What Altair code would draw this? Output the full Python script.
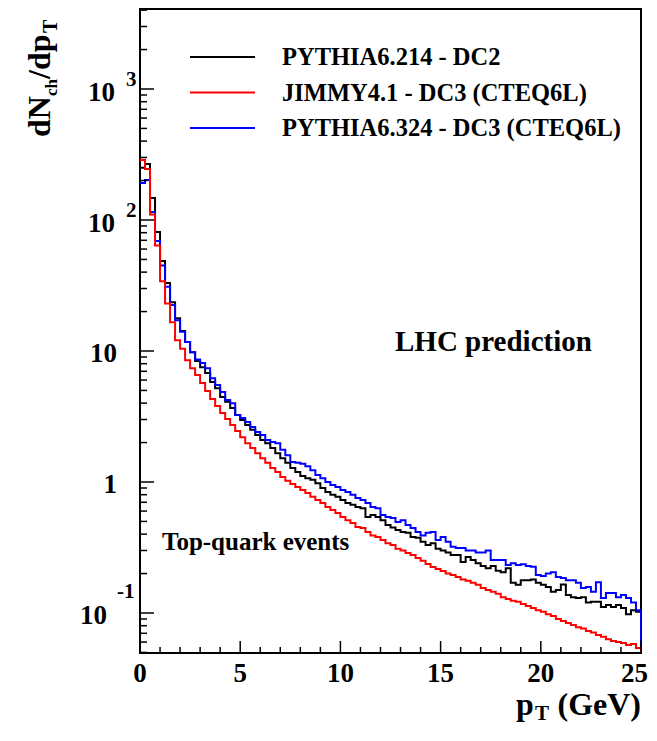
import altair as alt
import pandas as pd

# ---------------- data ----------------
bin_width = 0.25  # GeV, 100 bins from 0 to 25

pythia6214_dc2 = [
    250, 267, 147, 81, 48.6, 33, 23.6, 17.8, 14.2, 11.7,
    9.8, 8.4, 7.5, 6.8, 5.8, 5.2, 4.45, 4.1, 3.67, 3.25,
    2.97, 2.72, 2.5, 2.28, 2.09, 1.98, 1.82, 1.66, 1.52, 1.4,
    1.28, 1.19, 1.11, 1.07, 1.04, 0.98, 0.9, 0.84, 0.8, 0.77,
    0.73, 0.69, 0.67, 0.645, 0.63, 0.54, 0.56, 0.54, 0.51, 0.47,
    0.45, 0.43, 0.415, 0.41, 0.38, 0.375, 0.35, 0.33, 0.34, 0.31,
    0.30, 0.29, 0.277, 0.277, 0.245, 0.268, 0.254, 0.24, 0.228, 0.22,
    0.228, 0.21, 0.205, 0.22, 0.17, 0.164, 0.178, 0.178, 0.18, 0.17,
    0.164, 0.158, 0.145, 0.15, 0.165, 0.137, 0.132, 0.13, 0.132, 0.12,
    0.122, 0.122, 0.111, 0.115, 0.111, 0.115, 0.109, 0.098, 0.105, 0.102,
]

jimmy41_dc3 = [
    287, 245, 110, 64, 34, 23, 16.6, 12.1, 10.4, 8.5,
    7.4, 6.55, 5.7, 4.95, 4.3, 3.8, 3.36, 3.02, 2.72, 2.45,
    2.2, 1.98, 1.82, 1.66, 1.52, 1.4, 1.28, 1.19, 1.09, 1.02,
    0.965, 0.915, 0.87, 0.825, 0.77, 0.73, 0.69, 0.645, 0.61, 0.58,
    0.54, 0.51, 0.486, 0.453, 0.445, 0.415, 0.39, 0.38, 0.36, 0.34,
    0.33, 0.31, 0.30, 0.287, 0.277, 0.263, 0.25, 0.237, 0.224, 0.217,
    0.209, 0.2, 0.195, 0.188, 0.18, 0.176, 0.17, 0.164, 0.155, 0.15,
    0.145, 0.14, 0.132, 0.128, 0.124, 0.122, 0.117, 0.113, 0.109, 0.105,
    0.102, 0.098, 0.095, 0.09, 0.087, 0.084, 0.081, 0.078, 0.076, 0.073,
    0.071, 0.068, 0.066, 0.063, 0.061, 0.06, 0.059, 0.057, 0.058, 0.054,
]

pythia6324_dc3 = [
    192, 202, 115, 69, 45, 31, 22.4, 17.2, 14.0, 11.7,
    9.8, 8.6, 8.1, 7.4, 6.2, 5.5, 4.86, 4.22, 4.0, 3.25,
    3.08, 2.87, 2.63, 2.41, 2.28, 2.09, 2.02, 1.98, 1.76, 1.6,
    1.42, 1.4, 1.38, 1.32, 1.23, 1.13, 1.07, 1.0, 0.95, 0.915,
    0.87, 0.84, 0.8, 0.755, 0.73, 0.69, 0.645, 0.63, 0.56, 0.54,
    0.53, 0.495, 0.51, 0.47, 0.445, 0.415, 0.39, 0.41, 0.415, 0.36,
    0.38, 0.35, 0.32, 0.314, 0.314, 0.30, 0.30, 0.29, 0.29, 0.30,
    0.254, 0.254, 0.254, 0.232, 0.24, 0.232, 0.236, 0.228, 0.225, 0.195,
    0.192, 0.2, 0.205, 0.188, 0.185, 0.178, 0.178, 0.17, 0.155, 0.158,
    0.145, 0.172, 0.13, 0.142, 0.142, 0.132, 0.137, 0.13, 0.12, 0.105,
]

series_names = ["PYTHIA6.214 - DC2", "JIMMY4.1 - DC3 (CTEQ6L)", "PYTHIA6.324 - DC3 (CTEQ6L)"]
series_colors = ["#000000", "#ff0000", "#0000ff"]

x_major_ticks = [0, 5, 10, 15, 20, 25]
x_tick_labels = ["0", "5", "10", "15", "20", "25"]
x_minor_ticks = [1, 2, 3, 4, 6, 7, 8, 9, 11, 12, 13, 14, 16, 17, 18, 19, 21, 22, 23, 24]
y_major_ticks = [0.1, 1, 10, 100, 1000]
y_minor_ticks = ([m * 0.01 for m in range(5, 10)] + [m * 0.1 for m in range(2, 10)]
                 + [float(m) for m in range(2, 10)] + [m * 10.0 for m in range(2, 10)]
                 + [m * 100.0 for m in range(2, 10)] + [m * 1000.0 for m in range(2, 5)])

x_domain = [0, 25]
y_domain = [0.0495, 4080]
baseline_value = 0.01  # histogram drop-line at the right edge (clipped)

# ---------------- build tables ----------------
def hist_rows(name, values):
    rows = []
    for k, v in enumerate(values):
        rows.append({"series": name, "pt": k * bin_width, "val": v, "ord": k})
    rows.append({"series": name, "pt": len(values) * bin_width, "val": values[-1], "ord": len(values)})
    rows.append({"series": name, "pt": len(values) * bin_width, "val": baseline_value, "ord": len(values) + 1})
    return rows

hist = pd.DataFrame(
    hist_rows(series_names[0], pythia6214_dc2)
    + hist_rows(series_names[1], jimmy41_dc3)
    + hist_rows(series_names[2], pythia6324_dc3)
)

FONT = "Liberation Serif"

xs = alt.Scale(domain=x_domain, nice=False, zero=False)
ys = alt.Scale(type="log", domain=y_domain, nice=False)
cs = alt.Scale(domain=series_names, range=series_colors)

def series_line(name):
    return alt.Chart(hist[hist.series == name]).mark_line(
        interpolate="step-after", strokeWidth=2, clip=True
    ).encode(
        x=alt.X("pt:Q", scale=xs, axis=None),
        y=alt.Y("val:Q", scale=ys, axis=None),
        color=alt.Color("series:N", scale=cs, legend=None),
        order="ord:Q",
    )

lines = [series_line(series_names[0]), series_line(series_names[2]), series_line(series_names[1])]

# ticks drawn inside the frame
xmaj = alt.Chart(pd.DataFrame({"t": x_major_ticks})).mark_rule(color="black", strokeWidth=1.5).encode(
    x=alt.X("t:Q", scale=xs), y=alt.value(644), y2=alt.value(632))
xmin = alt.Chart(pd.DataFrame({"t": x_minor_ticks})).mark_rule(color="black", strokeWidth=1.5).encode(
    x=alt.X("t:Q", scale=xs), y=alt.value(644), y2=alt.value(638))
ymaj = alt.Chart(pd.DataFrame({"t": y_major_ticks})).mark_rule(color="black", strokeWidth=1.5).encode(
    y=alt.Y("t:Q", scale=ys), x=alt.value(0), x2=alt.value(14))
ymin = alt.Chart(pd.DataFrame({"t": y_minor_ticks})).mark_rule(color="black", strokeWidth=1.5).encode(
    y=alt.Y("t:Q", scale=ys), x=alt.value(0), x2=alt.value(7))

# x tick labels (the last one is kept inside the page)
xlab = pd.DataFrame({"t": x_major_ticks, "s": x_tick_labels})
xlabels_main = alt.Chart(xlab[xlab.t < 25]).mark_text(
    align="center", baseline="alphabetic", font=FONT, fontWeight="bold", fontSize=27, color="black"
).encode(x=alt.X("t:Q", scale=xs), y=alt.value(673), text="s:N")
xlabels_last = alt.Chart(xlab[xlab.t == 25]).mark_text(
    align="right", baseline="alphabetic", font=FONT, fontWeight="bold", fontSize=27, color="black", dx=7
).encode(x=alt.X("t:Q", scale=xs), y=alt.value(673), text="s:N")

# y tick labels in ROOT style (10 with superscript exponent)
lab_hi = pd.DataFrame({"v": [1000, 100], "m": ["10", "10"], "e": ["3", "2"]})
lab_mid = pd.DataFrame({"v": [10, 1], "m": ["10", "1"]})
lab_lo = pd.DataFrame({"v": [0.1], "m": ["10"], "e": ["-1"]})

def txt(df, field, align, xpx, dy, size):
    return alt.Chart(df).mark_text(
        align=align, baseline="middle", font=FONT, fontWeight="bold",
        fontSize=size, color="black", dy=dy
    ).encode(y=alt.Y("v:Q", scale=ys), x=alt.value(xpx), text=f"{field}:N")

ylabels = [
    txt(lab_hi, "m", "right", -25, 4, 27),
    txt(lab_hi, "e", "left", -14, -9, 21),
    txt(lab_mid, "m", "right", -23, 3, 27),
    txt(lab_lo, "m", "right", -33, 3, 27),
    txt(lab_lo, "e", "left", -23, -21, 21),
]

# free text helper (pixel positions relative to the plot area)
def free_text(s, xpx, ypx, size, align="left", angle=0, baseline="alphabetic"):
    return alt.Chart(pd.DataFrame({"s": [s]})).mark_text(
        align=align, baseline=baseline, font=FONT, fontWeight="bold", fontSize=size,
        color="black", angle=angle
    ).encode(x=alt.value(xpx), y=alt.value(ypx), text="s:N")

# legend
legend_layers = []
for i, (name, col) in enumerate(zip(series_names, series_colors)):
    ly = 48 + i * 35.5
    legend_layers.append(
        alt.Chart(pd.DataFrame({"s": [name]})).mark_rule(color=col, strokeWidth=2).encode(
            x=alt.value(50), x2=alt.value(115), y=alt.value(ly))
    )
    legend_layers.append(free_text(name, 142, ly + 8, 24.5))

annotations = [
    free_text("LHC prediction", 255, 342, 29),
    free_text("Top-quark events", 22, 541, 25),
    # x-axis title: p_T (GeV)
    free_text("(GeV)", 501, 706, 32, align="right"),
    free_text("p", 376, 706, 32),
    free_text("T", 395, 711, 21),
    # y-axis title: dN_ch/dp_T (rotated)
    free_text("dN", -90, 128, 32, angle=270),
    free_text("ch", -83, 87, 17, angle=270),
    free_text("/dp", -90, 70, 32, angle=270),
    free_text("T", -83, 24, 20, angle=270),
]

chart = alt.layer(
    *lines, xmaj, xmin, ymaj, ymin, xlabels_main, xlabels_last, *ylabels,
    *legend_layers, *annotations
).properties(
    width=501, height=644,
    padding={"left": 132, "top": 1, "right": 8, "bottom": 74},
    autosize=alt.AutoSizeParams(type="none"),
    background="white",
).configure_view(stroke="black", strokeWidth=2)

chart.save("out.html", embed_options={"renderer": "svg", "actions": False})
